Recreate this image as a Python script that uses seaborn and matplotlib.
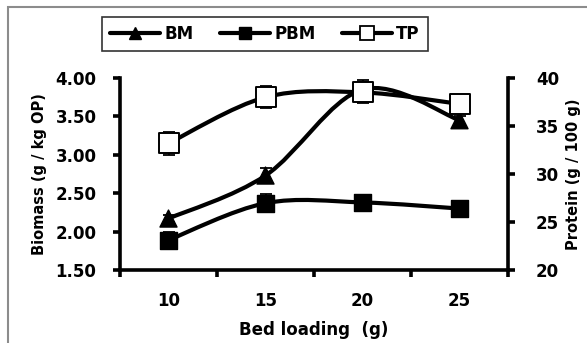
import numpy as np
import pandas as pd
import seaborn as sns
import matplotlib
matplotlib.use("Agg")
import matplotlib.pyplot as plt
from matplotlib.path import Path
from matplotlib.patches import PathPatch, Rectangle
from matplotlib.lines import Line2D

# Bed loading categories
loading = ["10", "15", "20", "25"]

# Biomass (g / kg OP)
bm = [2.17, 2.73, 3.85, 3.45]
bm_err = [0.05, 0.10, 0.12, 0.05]
pbm = [1.89, 2.37, 2.38, 2.30]
pbm_err = [0.10, 0.12, 0.10, 0.03]

# Protein (g / 100 g)
tp = [33.2, 38.0, 38.5, 37.3]
tp_err = [1.2, 1.15, 1.1, 0.9]

left_ticks = [1.5, 2.0, 2.5, 3.0, 3.5, 4.0]
right_ticks = [20, 25, 30, 35, 40]

sns.set_theme(style="white")
plt.rcParams["font.family"] = ["DejaVu Sans"]
plt.rcParams["font.weight"] = "bold"
plt.rcParams.update({"text.color": "black", "axes.labelcolor": "black",
                     "xtick.color": "black", "ytick.color": "black"})

fig = plt.figure(figsize=(5.87, 3.43), dpi=100)
ax = fig.add_axes([120 / 587, 1 - 270 / 343, (508 - 120) / 587, (270 - 78) / 343])
ax2 = ax.twinx()

xpos = np.arange(len(loading))


def smooth_path(xs, ys):
    """Cubic Bezier path through the points (Catmull-Rom style smoothing)."""
    pts = np.column_stack([xs, ys]).astype(float)
    ext = np.vstack([pts[0], pts, pts[-1]])
    verts = [pts[0]]
    codes = [Path.MOVETO]
    for i in range(len(pts) - 1):
        p0, p1, p2, p3 = ext[i], ext[i + 1], ext[i + 2], ext[i + 3]
        c1 = p1 + (p2 - p0) / 6.0
        c2 = p2 - (p3 - p1) / 6.0
        verts += [c1, c2, p2]
        codes += [Path.CURVE4] * 3
    return Path(verts, codes)


lw = 3.0
for axis, vals in ((ax, bm), (ax, pbm), (ax2, tp)):
    axis.add_patch(PathPatch(smooth_path(xpos, vals), facecolor="none",
                             edgecolor="black", lw=lw, zorder=2, capstyle="round"))

# Error bars
ax.errorbar(xpos, bm, yerr=bm_err, fmt="none", ecolor="black", elinewidth=1.3,
            capsize=4, capthick=1.3, zorder=3)
ax.errorbar(xpos, pbm, yerr=pbm_err, fmt="none", ecolor="black", elinewidth=1.3,
            capsize=4, capthick=1.3, zorder=3)
ax2.errorbar(xpos, tp, yerr=tp_err, fmt="none", ecolor="black", elinewidth=1.3,
             capsize=4, capthick=1.3, zorder=3)

df_left = pd.DataFrame({"x": np.concatenate([xpos, xpos]),
                        "y": bm + pbm,
                        "s": ["BM"] * 4 + ["PBM"] * 4})
sns.scatterplot(data=df_left, x="x", y="y", style="s", markers={"BM": "^", "PBM": "s"},
                color="black", edgecolor="black", s=150, linewidth=1, ax=ax,
                legend=False, zorder=4)
sns.scatterplot(x=xpos, y=tp, marker="s", color="white", edgecolor="black",
                s=190, linewidth=1.4, ax=ax2, legend=False, zorder=4)

# Axes limits and ticks
ax.set_xlim(-0.5, 3.5)
ax.set_ylim(1.5, 4.0)
ax2.set_ylim(20, 40)
ax.set_xticks(xpos)
ax.set_xticklabels(loading)
ax.set_xticks(np.arange(-0.5, 3.6, 1.0), minor=True)
ax.set_yticks(left_ticks)
ax.set_yticklabels([f"{v:.2f}" for v in left_ticks])
ax2.set_yticks(right_ticks)
ax2.set_yticklabels([str(v) for v in right_ticks])

fs = 12
ax.tick_params(axis="x", which="major", length=0, pad=16, labelsize=fs)
ax.tick_params(axis="x", which="minor", length=5, width=2.6, direction="out",
               bottom=True, color="black")
ax.tick_params(axis="y", length=5, width=2.6, direction="out", left=True,
               color="black", labelsize=fs, pad=12)
ax2.tick_params(axis="y", length=5, width=2.6, direction="out", right=True,
                color="black", labelsize=fs, pad=15)

for a in (ax, ax2):
    a.spines["top"].set_visible(False)
    a.grid(False)
for side in ("left", "bottom"):
    ax.spines[side].set_color("black")
    ax.spines[side].set_linewidth(2.6)
ax.spines["right"].set_visible(False)
ax2.spines["left"].set_visible(False)
ax2.spines["bottom"].set_visible(False)
ax2.spines["right"].set_color("black")
ax2.spines["right"].set_linewidth(2.6)
ax2.set_zorder(ax.get_zorder() + 1)
ax2.patch.set_visible(False)

ax.set_xlabel("Bed loading  (g)", fontsize=fs, fontweight="bold", labelpad=8)
ax.set_ylabel("Biomass (g / kg OP)", fontsize=10.5, fontweight="bold", labelpad=6)
ax2.set_ylabel("Protein (g / 100 g)", fontsize=10.5, fontweight="bold", labelpad=5)

# Legend
handles = [
    Line2D([0], [0], color="black", lw=3, marker="^", markersize=8,
           markerfacecolor="black", markeredgecolor="black"),
    Line2D([0], [0], color="black", lw=3, marker="s", markersize=8,
           markerfacecolor="black", markeredgecolor="black"),
    Line2D([0], [0], color="black", lw=3, marker="s", markersize=10,
           markerfacecolor="white", markeredgecolor="black", markeredgewidth=1.3),
]
leg = fig.legend(handles, ["BM", "PBM", "TP"], loc="center",
                 bbox_to_anchor=(265 / 587, 1 - 34 / 343), ncol=3,
                 frameon=True, fancybox=False, handlelength=3.0,
                 handletextpad=0.25, columnspacing=1.6, borderpad=0.5,
                 prop={"weight": "bold", "size": fs})
leg.get_frame().set_edgecolor("black")
leg.get_frame().set_linewidth(1.2)

# Chart area border
fig.patches.append(Rectangle((8 / 587, -0.05), 1.1, 1 - 7 / 343 + 0.05,
                             transform=fig.transFigure, fill=False,
                             edgecolor="#8c8c8c", lw=1.5, zorder=0))

fig.savefig("out.png", dpi=100)
